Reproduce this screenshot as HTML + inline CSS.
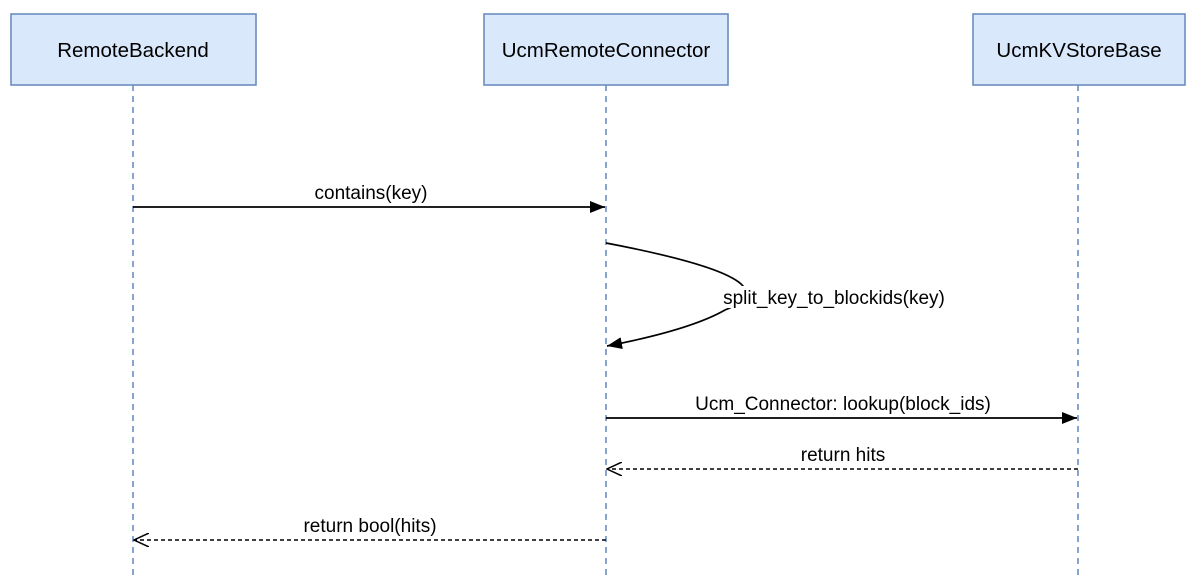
<!DOCTYPE html>
<html><head><style>
html,body{margin:0;padding:0;background:#fff;width:1202px;height:581px;overflow:hidden}
svg text{font-family:"Liberation Sans",Arial,sans-serif;font-size:19px}
svg text.b{font-size:20.5px}
</style></head><body>
<svg width="1202" height="581" viewBox="0 0 1202 581" xmlns="http://www.w3.org/2000/svg">
<defs>
<marker id="f" markerWidth="16" markerHeight="12" refX="15" refY="6" orient="auto" markerUnits="userSpaceOnUse"><path d="M0,0 L15,6 L0,12 Z" fill="#000"/></marker>
<marker id="o" markerWidth="16" markerHeight="14" refX="15" refY="7" orient="auto" markerUnits="userSpaceOnUse"><path d="M0,0 L15,7 L0,14" fill="none" stroke="#000" stroke-width="1.5"/></marker>
</defs>
<g stroke="#6c8ebf" stroke-width="1.6" stroke-dasharray="6,5">
<line x1="133" y1="85" x2="133" y2="575"/>
<line x1="606" y1="85" x2="606" y2="575"/>
<line x1="1078" y1="85" x2="1078" y2="575"/>
</g>
<g fill="#dae8fc" stroke="#6c8ebf" stroke-width="1.6">
<rect x="11" y="14" width="245" height="71"/>
<rect x="484" y="14" width="244" height="71"/>
<rect x="973" y="14" width="212" height="71"/>
</g>
<g text-anchor="middle">
<text class="b" x="133" y="57">RemoteBackend</text>
<text class="b" x="606" y="57">UcmRemoteConnector</text>
<text class="b" x="1079" y="57">UcmKVStoreBase</text>
</g>
<line x1="133" y1="207" x2="605" y2="207" stroke="#000" stroke-width="1.7" marker-end="url(#f)"/>
<text x="371" y="199" text-anchor="middle">contains(key)</text>
<path d="M606,243 Q800,280 725,310 Q690,330 607,346" fill="none" stroke="#000" stroke-width="1.7" marker-end="url(#f)"/>
<rect x="720" y="286" width="230" height="22" fill="#fff"/>
<text x="834" y="304" text-anchor="middle">split_key_to_blockids(key)</text>
<line x1="606" y1="418" x2="1077" y2="418" stroke="#000" stroke-width="1.7" marker-end="url(#f)"/>
<text x="843" y="410" text-anchor="middle">Ucm_Connector: lookup(block_ids)</text>
<line x1="1078" y1="469" x2="607" y2="469" stroke="#000" stroke-width="1.5" stroke-dasharray="4,3" marker-end="url(#o)"/>
<text x="843" y="461" text-anchor="middle">return hits</text>
<line x1="606" y1="540" x2="134" y2="540" stroke="#000" stroke-width="1.5" stroke-dasharray="4,3" marker-end="url(#o)"/>
<text x="370" y="532" text-anchor="middle">return bool(hits)</text>
</svg>
</body></html>
